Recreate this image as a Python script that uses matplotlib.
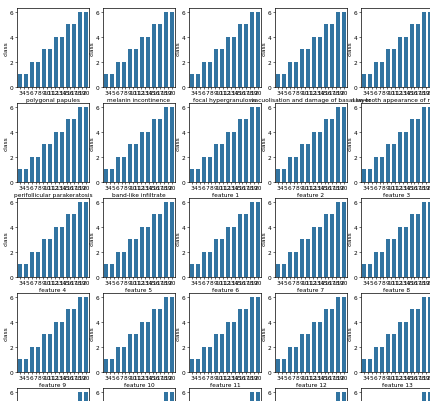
import numpy as np
import matplotlib
matplotlib.use("Agg")
import matplotlib.pyplot as plt

# bar heights (class) shared by every panel
class_vals = [1, 1, 2, 2, 3, 3, 4, 4, 5, 5, 6, 6]
tick_labels = [str(v) for v in range(3, 21)]

feature_names = [
    "polygonal papules", "melanin incontinence", "focal hypergranulosis",
    "vacuolisation and damage of basal layer", "saw-tooth appearance of retes",
    "perifollicular parakeratosis", "band-like infiltrate", "feature 1", "feature 2", "feature 3",
    "feature 4", "feature 5", "feature 6", "feature 7", "feature 8",
    "feature 9", "feature 10", "feature 11", "feature 12", "feature 13",
    "feature 14", "feature 15", "feature 16", "feature 17", "feature 18",
]

W, H = 430, 402
fig = plt.figure(figsize=(W / 100, H / 100), dpi=100)

col_left = [17, 103, 189, 275, 361]
row_top = [9, 104, 199, 294, 389]
ax_w, ax_h = 72, 79

fs = 4.2
pos = np.arange(len(class_vals))
for r, top in enumerate(row_top):
    for c, left in enumerate(col_left):
        name = feature_names[r * 5 + c]
        ax = fig.add_axes([left / W, (H - top - ax_h) / H, ax_w / W, ax_h / H])
        ax.bar(pos, class_vals, width=0.8, color="#3274a1")
        ax.set_xlim(-0.5, len(class_vals) - 0.5)
        ax.set_ylim(0, 6.3)
        ax.set_yticks([0, 2, 4, 6])
        ax.set_xticks(np.linspace(0, len(class_vals) - 1, len(tick_labels)))
        ax.set_xticklabels(tick_labels)
        ax.tick_params(labelsize=fs, length=1.5, width=0.4, pad=1)
        ax.set_xlabel(name, fontsize=fs, labelpad=1)
        ax.set_ylabel("class", fontsize=fs, labelpad=1)
        for s in ax.spines.values():
            s.set_linewidth(0.5)

fig.savefig("out.png", dpi=100)
